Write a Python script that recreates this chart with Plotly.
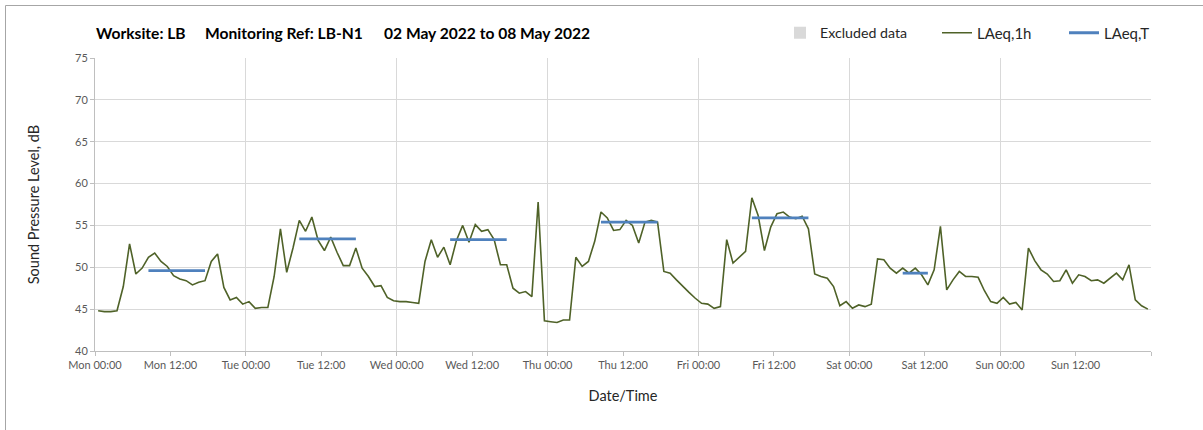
import plotly.graph_objects as go
import pandas as pd

# ---------------- data ----------------
start_time = "2022-05-02 00:30"
laeq_1h = [
    # Mon
    44.8, 44.7, 44.7, 44.8, 47.7, 52.8, 49.2, 49.9, 51.2, 51.7, 50.7, 50.1,
    49.0, 48.6, 48.4, 47.9, 48.2, 48.4, 50.7, 51.6, 47.6, 46.1, 46.4, 45.6,
    # Tue
    45.9, 45.1, 45.2, 45.2, 48.9, 54.6, 49.4, 52.3, 55.6, 54.3, 56.0, 53.2,
    52.0, 53.6, 51.8, 50.2, 50.2, 52.3, 49.9, 48.9, 47.7, 47.8, 46.4, 46.0,
    # Wed
    45.9, 45.9, 45.8, 45.7, 50.7, 53.3, 51.2, 52.4, 50.3, 53.2, 55.0, 53.0,
    55.1, 54.3, 54.5, 53.3, 50.3, 50.3, 47.5, 46.9, 47.1, 46.5, 57.8, 43.6,
    # Thu
    43.5, 43.4, 43.7, 43.7, 51.2, 50.1, 50.7, 53.1, 56.6, 55.9, 54.4, 54.5,
    55.6, 55.0, 52.9, 55.4, 55.6, 55.4, 49.5, 49.3, 48.5, 47.7, 47.0, 46.3,
    # Fri
    45.7, 45.6, 45.1, 45.3, 53.3, 50.5, 51.2, 51.9, 58.3, 56.2, 52.0, 54.8,
    56.4, 56.6, 56.0, 55.8, 56.1, 54.6, 49.2, 48.9, 48.7, 47.7, 45.4, 45.9,
    # Sat
    45.1, 45.5, 45.3, 45.6, 51.0, 50.9, 49.9, 49.3, 49.9, 49.3, 49.9, 49.1,
    47.9, 49.7, 54.9, 47.3, 48.5, 49.5, 48.9, 48.9, 48.8, 47.2, 45.9, 45.7,
    # Sun
    46.4, 45.6, 45.8, 44.9, 52.3, 50.8, 49.7, 49.2, 48.3, 48.4, 49.7, 48.1,
    49.1, 48.9, 48.4, 48.5, 48.1, 48.7, 49.3, 48.5, 50.3, 46.1, 45.4, 45.0,
]
laeqT_day = ["2022-05-02", "2022-05-03", "2022-05-04", "2022-05-05", "2022-05-06", "2022-05-07"]
laeqT_from = ["08:30", "08:30", "08:30", "08:30", "08:30", "08:30"]
laeqT_to = ["17:30", "17:30", "17:30", "17:30", "17:30", "12:30"]
laeqT_value = [49.6, 53.4, 53.3, 55.4, 55.9, 49.3]

tick_labels = ["Mon 00:00", "Mon 12:00", "Tue 00:00", "Tue 12:00", "Wed 00:00", "Wed 12:00",
               "Thu 00:00", "Thu 12:00", "Fri 00:00", "Fri 12:00", "Sat 00:00", "Sat 12:00",
               "Sun 00:00", "Sun 12:00", ""]
axis_start = "2022-05-02 00:00"
axis_end = "2022-05-09 00:00"

title_parts = ["Worksite: LB", "Monitoring Ref: LB-N1", "02 May 2022 to 08 May 2022"]

# ---------------- build ----------------
times = pd.date_range(start_time, periods=len(laeq_1h), freq="h")
tick_vals = pd.date_range(axis_start, axis_end, freq="12h")

tx, ty = [], []
for d, a, b, v in zip(laeqT_day, laeqT_from, laeqT_to, laeqT_value):
    tx += [pd.Timestamp(f"{d} {a}"), pd.Timestamp(f"{d} {b}"), None]
    ty += [v, v, None]

FONT = "Lato, 'Open Sans', sans-serif"
GRID = "#D9D9D9"
AX = "#BFBFBF"

L, R, T, B = 95, 52, 58, 79
W, H = 1203, 430
PW, PH = W - L - R, H - T - B


def px_x(px):
    return (px - L) / PW


def px_y(py):
    return 1 + (T - py) / PH


fig = go.Figure()
fig.add_trace(go.Bar(x=[times[0]], y=[None], name="Excluded data",
                     marker=dict(color="#D9D9D9", line=dict(width=0)),
                     xaxis="x2", showlegend=True, hoverinfo="skip", legend="legend"))
fig.add_trace(go.Scatter(x=times, y=laeq_1h, mode="lines", name="LAeq,1h",
                         line=dict(color="#4F6228", width=1.6), legend="legend2"))
fig.add_trace(go.Scatter(x=tx, y=ty, mode="lines", name="LAeq,T",
                         line=dict(color="#4F81BD", width=2.8), connectgaps=False,
                         legend="legend3"))

leg_common = dict(orientation="h", xanchor="left", y=px_y(33), yanchor="middle",
                  bgcolor="rgba(0,0,0,0)", borderwidth=0, itemwidth=30)

fig.update_layout(
    width=W, height=H,
    margin=dict(l=L, r=R, t=T, b=B, autoexpand=False),
    paper_bgcolor="white", plot_bgcolor="white",
    font=dict(family=FONT, color="#404040"),
    showlegend=True,
    legend=dict(x=px_x(780), font=dict(size=14.2, color="#262626", family=FONT), **leg_common),
    legend2=dict(x=px_x(937), font=dict(size=15, color="#262626", family=FONT), **leg_common),
    legend3=dict(x=px_x(1064), font=dict(size=15, color="#262626", family=FONT), **leg_common),
    xaxis=dict(type="date", range=[axis_start, axis_end], automargin=False,
               tickmode="array", tickvals=tick_vals, ticktext=tick_labels,
               showgrid=False, showline=True, linecolor=AX, linewidth=1,
               ticks="outside", ticklen=4, tickcolor=AX,
               tickfont=dict(size=11, color="#595959"),
               title=dict(text="Date/Time", font=dict(size=14.5, color="#262626"), standoff=20),
               zeroline=False),
    xaxis2=dict(type="date", range=[axis_start, axis_end], overlaying="x", anchor="y",
                dtick=86400000, tick0=axis_start, showgrid=True, gridcolor=GRID, gridwidth=1,
                showticklabels=False, ticks="", showline=False, zeroline=False,
                automargin=False),
    yaxis=dict(range=[40, 75], dtick=5, showgrid=True, gridcolor=GRID, gridwidth=1,
               showline=True, linecolor=AX, linewidth=1, automargin=False,
               ticks="outside", ticklen=4, tickcolor=AX,
               tickfont=dict(size=11, color="#595959"),
               title=dict(text="Sound Pressure Level, dB", font=dict(size=14.5, color="#262626"),
                          standoff=31),
               zeroline=False),
    bargap=0,
)

# chart outer frame (top and left borders)
fig.add_shape(type="rect", xref="paper", yref="paper",
              x0=px_x(5.5), x1=px_x(1250), y0=px_y(600), y1=px_y(5.5),
              line=dict(color="#A6A6A6", width=1), fillcolor="rgba(0,0,0,0)", layer="below")

# title pieces
title_px = [94, 203, 382]
for t, px in zip(title_parts, title_px):
    fig.add_annotation(text=f"<b>{t}</b>", xref="paper", yref="paper",
                       x=px_x(px), y=px_y(33),
                       xanchor="left", yanchor="middle", showarrow=False,
                       font=dict(size=15.6, color="#000000", family=FONT))

fig.write_html("out.html", config={"displayModeBar": False},
               post_script="document.body.style.margin='0px';")
